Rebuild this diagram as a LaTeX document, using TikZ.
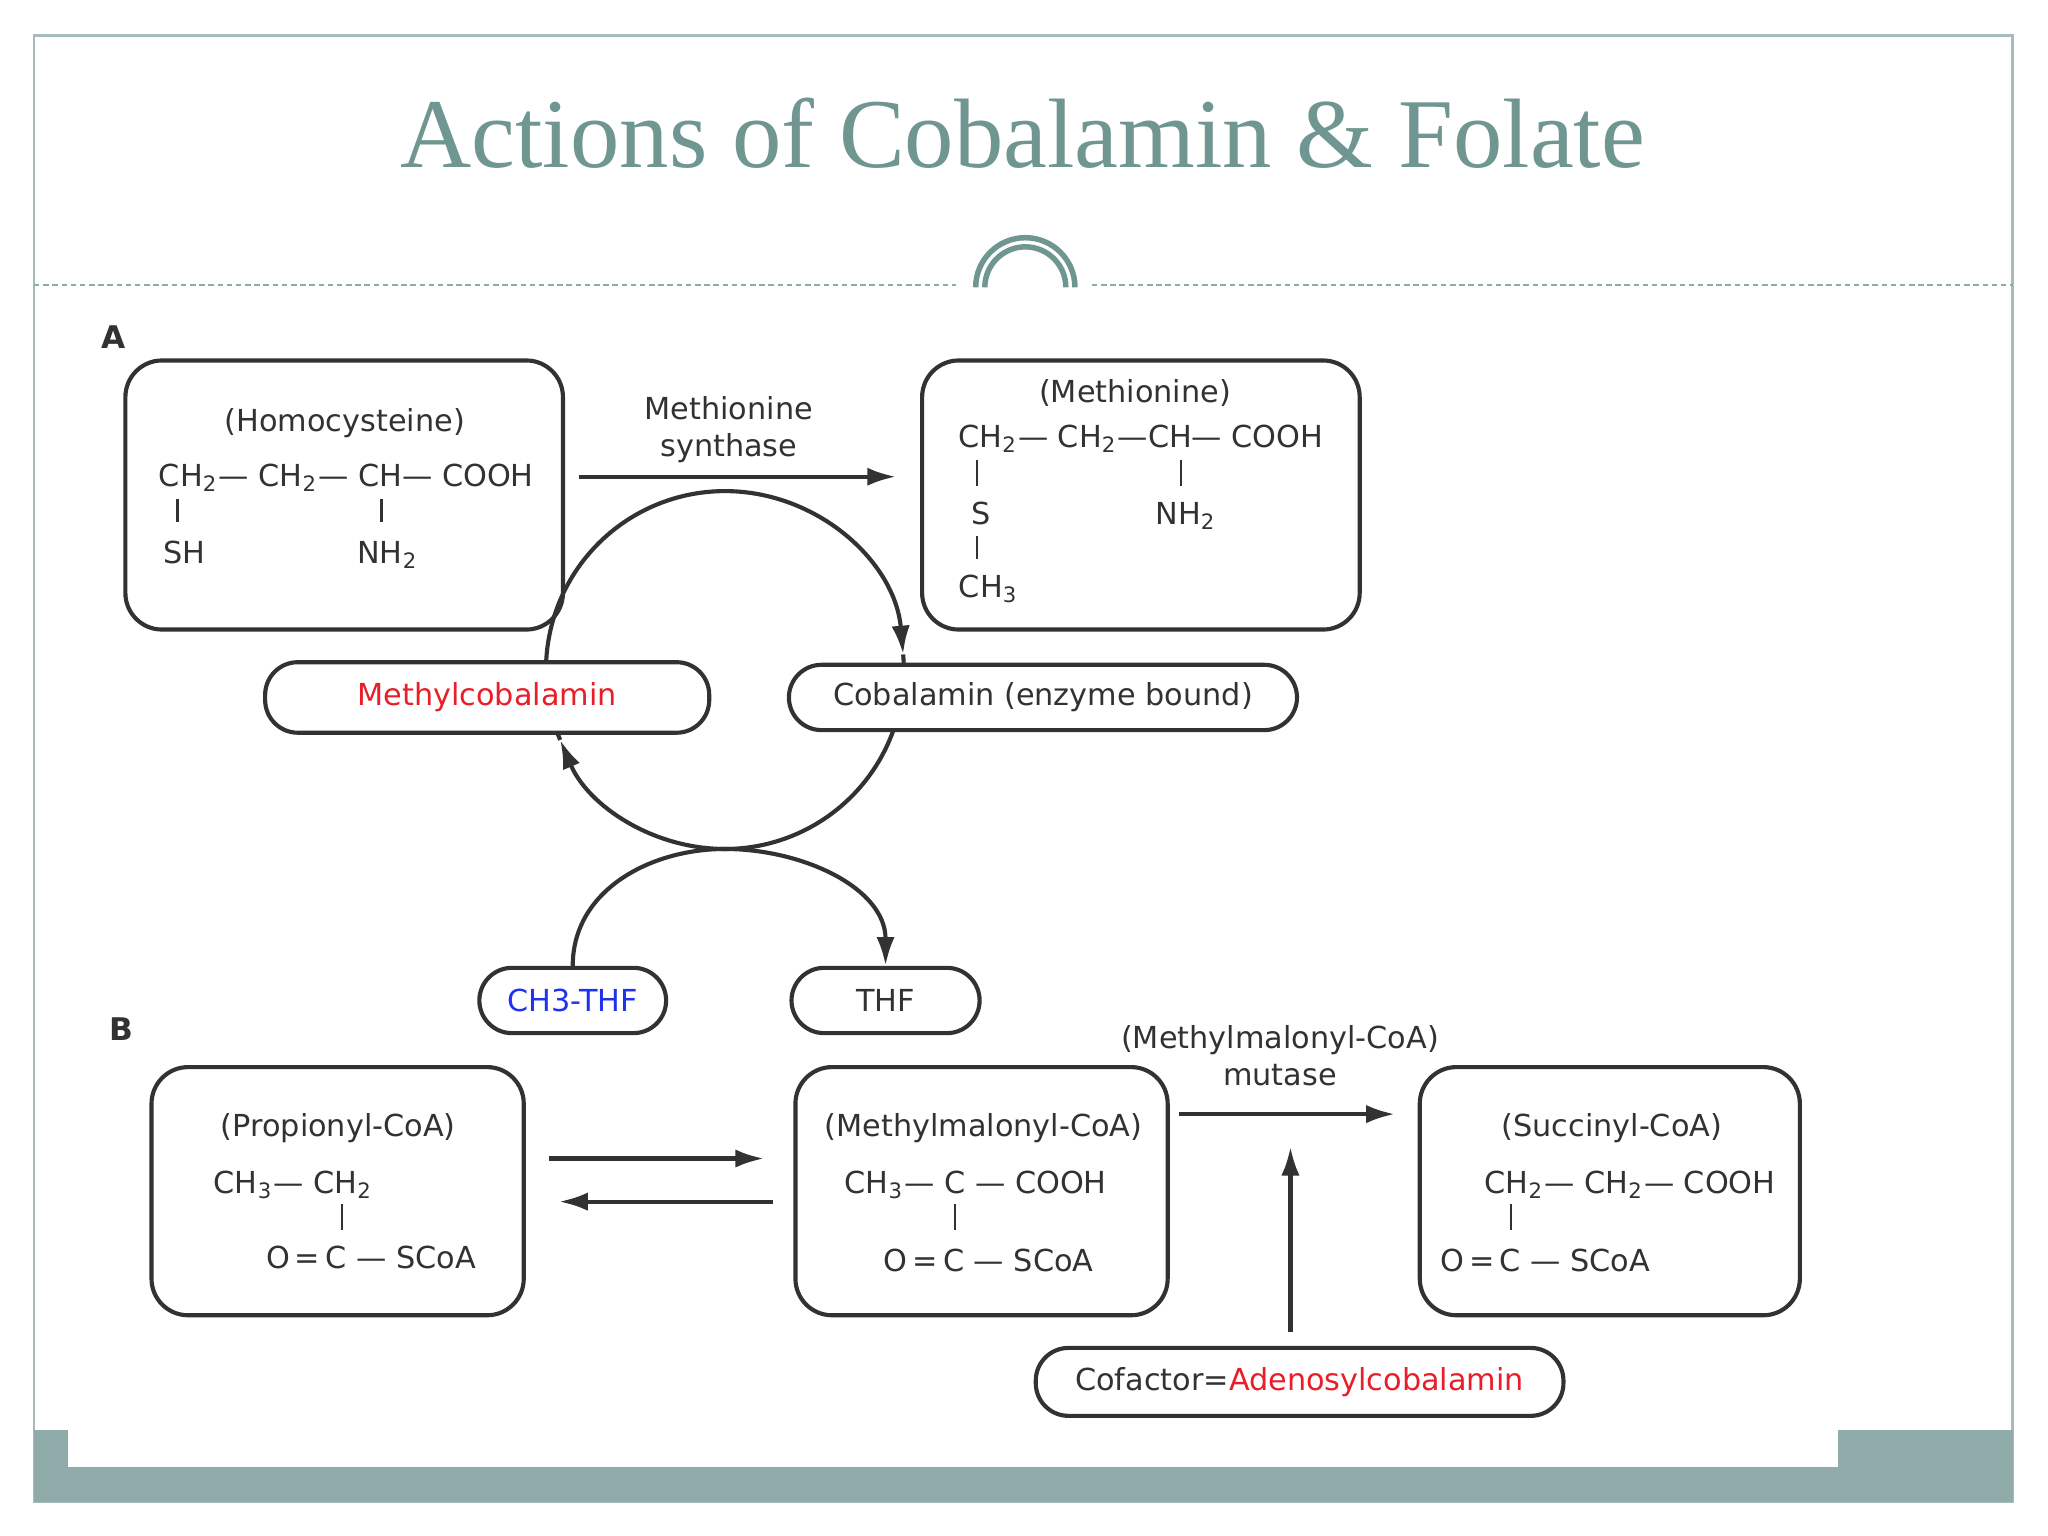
\documentclass[tikz,border=0pt]{standalone}
\usepackage{fontspec}
\setmainfont{DejaVu Sans}
\newfontfamily\ttl{Liberation Serif}
\usetikzlibrary{arrows.meta}
\definecolor{teal1}{RGB}{112,150,146}
\definecolor{bar}{RGB}{143,171,170}
\definecolor{ink}{RGB}{50,50,50}
\definecolor{myred}{RGB}{232,30,40}
\definecolor{myblue}{RGB}{30,50,240}
\begin{document}
\begin{tikzpicture}[x=1cm,y=1cm,
  txt/.style={font=\fontsize{6.6}{8}\selectfont,text=ink,inner sep=0pt},
  box/.style={draw=ink,line width=0.9pt,rounded corners=0.28cm,fill=none},
  pill/.style={draw=ink,line width=0.9pt,rounded corners=0.25cm,fill=white},
  arr/.style={draw=ink,line width=0.9pt,-{Latex[length=0.22cm,width=0.14cm]}},
  bond/.style={draw=ink,line width=0.5pt}]
\useasboundingbox (0,0) rectangle (15.68,-11.76);
\fill[white] (0,0) rectangle (15.68,-11.76);
% frame
\draw[bar!80,line width=0.6pt] (0.26,-0.27) rectangle (15.41,-11.50);
\fill[bar] (0.26,-10.95) rectangle (15.41,-11.50);
\fill[white] (0.52,-10.95) rectangle (14.07,-11.23);
\draw[bar,line width=0.4pt,dash pattern=on 1.2pt off 0.8pt] (0.26,-2.18) -- (7.32,-2.18);
\draw[bar,line width=0.4pt,dash pattern=on 1.2pt off 0.8pt] (8.36,-2.18) -- (15.41,-2.18);
\draw[teal1,line width=1.2pt] (7.47,-2.20) arc[start angle=180,end angle=0,radius=0.38];
\draw[teal1,line width=1.2pt] (7.54,-2.20) arc[start angle=180,end angle=0,radius=0.31];
\node[text=teal1,font=\ttl\fontsize{21.5}{24}\selectfont] (title) at (7.83,-1.02) {Actions of Cobalamin \& Folate};
\node[txt,font=\fontsize{6.8}{8}\selectfont\bfseries] (A) at (0.87,-2.58) {A};
\node[txt,font=\fontsize{6.8}{8}\selectfont\bfseries] (B) at (0.93,-7.88) {B};
% circle cycle
\coordinate (c) at (5.55,-5.13);
\draw[ink,line width=0.9pt] ([shift={(5:1.37)}]c) arc[start angle=5,end angle=-90,radius=1.37];
\draw[ink,line width=0.9pt] ([shift={(203:1.37)}]c) arc[start angle=203,end angle=90,radius=1.37];
\draw[arr] ([shift={(90:1.37)}]c) arc[start angle=90,end angle=5,radius=1.37];
\draw[arr] ([shift={(-90:1.37)}]c) arc[start angle=-90,end angle=-157,radius=1.37];
% boxes
\node[box,minimum width=3.35cm,minimum height=2.06cm] (homo) at (2.635,-3.79) {};
\node[box,minimum width=3.35cm,minimum height=2.06cm] (met) at (8.735,-3.79) {};
\node[pill,minimum width=3.40cm,minimum height=0.54cm] (mcb) at (3.73,-5.34) {};
\node[txt,text=myred] at (mcb) {Methylcobalamin};
\node[pill,minimum width=3.89cm,minimum height=0.50cm] (cob) at (7.985,-5.34) {};
\node[txt] at (cob) {Cobalamin (enzyme bound)};
\node[pill,minimum width=1.43cm,minimum height=0.50cm] (ch3) at (4.385,-7.66) {};
\node[txt,text=myblue] at (ch3) {CH3-THF};
\node[pill,minimum width=1.44cm,minimum height=0.50cm] (thf) at (6.78,-7.66) {};
\node[txt] at (thf) {THF};
\coordinate (m) at (5.55,-6.50);
\draw[ink,line width=0.9pt] (ch3.north) to[out=90,in=180] (m);
\draw[arr] (m) to[out=0,in=90] (thf.north);
\node[box,minimum width=2.85cm,minimum height=1.90cm] (prop) at (2.585,-9.12) {};
\node[box,minimum width=2.85cm,minimum height=1.90cm] (mm) at (7.515,-9.12) {};
\node[box,minimum width=2.91cm,minimum height=1.90cm] (succ) at (12.325,-9.12) {};
\node[pill,minimum width=4.04cm,minimum height=0.52cm] (cof) at (9.95,-10.58) {};
\node[txt] at (cof) {Cofactor=\textcolor{myred}{Adenosylcobalamin}};
% reaction arrows
\coordinate (s1) at (4.43,-3.65); \coordinate (e1) at (6.86,-3.65);
\draw[arr] (s1) -- (e1);
\node[txt,align=center] (ms) at (5.58,-3.29) {Methionine\\synthase};
\coordinate (s2) at (4.20,-8.87); \coordinate (e2) at (5.85,-8.87);
\draw[arr] (s2) -- (e2);
\coordinate (s3) at (5.92,-9.20); \coordinate (e3) at (4.28,-9.20);
\draw[arr] (s3) -- (e3);
\coordinate (s4) at (9.03,-8.53); \coordinate (e4) at (10.68,-8.53);
\draw[arr] (s4) -- (e4);
\node[txt,align=center] (mut) at (9.80,-8.08) {(Methylmalonyl-CoA)\\mutase};
\coordinate (s5) at (9.88,-10.20); \coordinate (e5) at (9.88,-8.78);
\draw[arr] (s5) -- (e5);
% Homocysteine formula
\node[txt] at (2.64,-3.24) {(Homocysteine)};
\node[txt,anchor=west] at (1.21,-3.66) {CH\textsubscript{2}— CH\textsubscript{2}— CH— COOH};
\draw[bond] (1.36,-3.82) -- (1.36,-4.00);
\draw[bond] (2.92,-3.82) -- (2.92,-4.00);
\node[txt] at (1.41,-4.23) {SH};
\node[txt] at (2.97,-4.25) {NH\textsubscript{2}};
% Methionine formula
\node[txt] at (8.69,-3.01) {(Methionine)};
\node[txt,anchor=west] at (7.33,-3.36) {CH\textsubscript{2}— CH\textsubscript{2}—CH— COOH};
\draw[bond] (7.48,-3.52) -- (7.48,-3.72);
\draw[bond] (9.04,-3.52) -- (9.04,-3.72);
\node[txt] at (7.51,-3.93) {S};
\draw[bond] (7.48,-4.10) -- (7.48,-4.28);
\node[txt] at (7.57,-4.51) {CH\textsubscript{3}};
\node[txt] at (9.08,-3.95) {NH\textsubscript{2}};
% Propionyl
\node[txt] at (2.59,-8.64) {(Propionyl-CoA)};
\node[txt,anchor=west] at (1.63,-9.07) {CH\textsubscript{3}— CH\textsubscript{2}};
\draw[bond] (2.62,-9.22) -- (2.62,-9.42);
\node[txt,anchor=west] at (2.03,-9.63) {O\,=\,C — SCoA};
% Methylmalonyl
\node[txt] at (7.53,-8.64) {(Methylmalonyl-CoA)};
\node[txt,anchor=west] at (6.46,-9.07) {CH\textsubscript{3}— C — COOH};
\draw[bond] (7.31,-9.22) -- (7.31,-9.42);
\node[txt,anchor=west] at (6.76,-9.65) {O\,=\,C — SCoA};
% Succinyl
\node[txt] at (12.34,-8.64) {(Succinyl-CoA)};
\node[txt,anchor=west] at (11.36,-9.07) {CH\textsubscript{2}— CH\textsubscript{2}— COOH};
\draw[bond] (11.57,-9.22) -- (11.57,-9.42);
\node[txt,anchor=west] at (11.02,-9.65) {O\,=\,C — SCoA};
\end{tikzpicture}
\end{document}
